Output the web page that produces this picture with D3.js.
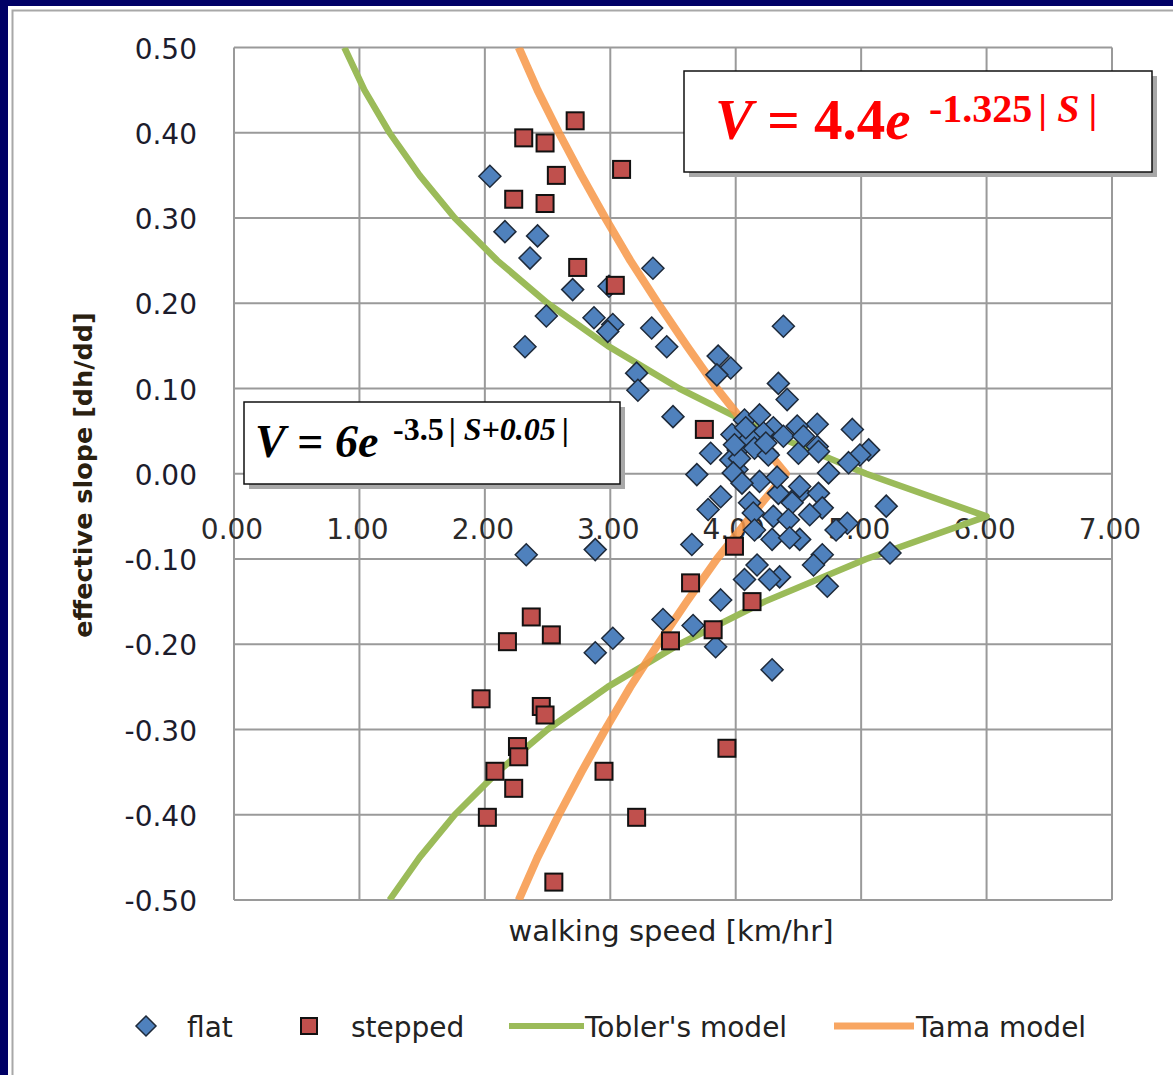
<!DOCTYPE html>
<html><head><meta charset="utf-8">
<script src="https://cdn.jsdelivr.net/npm/d3@7"></script>
<style>
html,body{margin:0;padding:0;background:#000066;overflow:hidden;}
svg{display:block}
</style></head><body>
<svg id="c" width="1173" height="1075"></svg>
<script>
// ---------- data ----------
const xTicks = [0, 1, 2, 3, 4, 5, 6, 7];
const xTickLabels = ["0.00", "1.00", "2.00", "3.00", "4.00", "5.00", "6.00", "7.00"];
const yTicks = [0.5, 0.4, 0.3, 0.2, 0.1, 0, -0.1, -0.2, -0.3, -0.4, -0.5];
const yTickLabels = ["0.50", "0.40", "0.30", "0.20", "0.10", "0.00", "-0.10", "-0.20", "-0.30", "-0.40", "-0.50"];

const flatSpeed = [2.04, 2.16, 2.42, 2.36, 3.34, 2.70, 2.99, 2.49, 2.32, 2.87, 3.02, 2.98, 3.33, 3.45, 3.21, 3.22, 3.50, 3.86, 3.96, 3.85,
  4.38, 4.34, 4.41, 3.80, 3.69, 4.01, 3.88, 3.78, 3.65, 2.33, 2.88, 4.11, 4.19, 3.42, 3.02, 2.88, 3.66, 3.84, 4.29, 3.88,
  4.93, 5.06, 4.99, 4.90, 4.74, 4.65, 4.49, 4.30, 4.50, 4.65, 4.22, 4.25, 5.20, 4.34, 4.51, 4.66, 4.45, 4.69, 4.59, 4.30,
  4.89, 4.29, 4.51, 4.14, 5.23, 4.69, 4.62, 4.17, 4.35, 4.27, 4.73, 4.07, 4.19, 4.38, 4.11, 3.97, 4.02, 4.15, 3.96, 4.03,
  4.26, 3.98, 4.54, 4.66, 4.51, 4.42, 4.43, 4.15, 4.07, 4.05, 4.80, 4.08, 4.24, 3.99, 4.33];
const flatSlope = [0.349, 0.284, 0.279, 0.253, 0.241, 0.216, 0.220, 0.185, 0.149, 0.183, 0.175, 0.167, 0.171, 0.149, 0.118, 0.098, 0.067, 0.138, 0.124, 0.116,
  0.173, 0.106, 0.087, 0.024, -0.001, 0.005, -0.027, -0.042, -0.083, -0.095, -0.089, -0.034, -0.009, -0.171, -0.193, -0.210, -0.178, -0.203, -0.230, -0.148,
  0.052, 0.028, 0.022, 0.013, 0.001, 0.058, 0.056, 0.054, 0.024, 0.032, 0.048, 0.024, -0.038, -0.023, -0.023, -0.023, -0.034, -0.040, -0.048, -0.050,
  -0.058, -0.077, -0.077, -0.046, -0.093, -0.095, -0.107, -0.107, -0.121, -0.124, -0.132, 0.063, 0.069, 0.044, 0.042, 0.046, 0.028, 0.030, 0.016, 0.018,
  0.022, 0.001, 0.044, 0.026, -0.015, -0.054, -0.075, -0.066, -0.124, -0.011, -0.066, 0.054, 0.036, 0.034, -0.004];

const steppedSpeed = [2.72, 2.31, 2.48, 3.09, 2.57, 2.23, 2.48, 2.74, 3.04, 3.75, 3.99, 3.64, 4.13, 3.82, 3.48,
  2.37, 2.53, 2.18, 1.97, 2.45, 2.48, 2.26, 2.27, 2.08, 2.23, 2.02, 2.95, 3.21, 2.55, 3.93];
const steppedSlope = [0.414, 0.394, 0.388, 0.357, 0.350, 0.322, 0.317, 0.242, 0.221, 0.052, -0.085, -0.128, -0.150, -0.183, -0.196,
  -0.168, -0.189, -0.197, -0.264, -0.273, -0.283, -0.320, -0.332, -0.349, -0.369, -0.403, -0.349, -0.403, -0.479, -0.322];

const modelSlope = [-0.50, -0.45, -0.40, -0.35, -0.30, -0.25, -0.20, -0.15, -0.10, -0.05, 0.00, 0.05, 0.10, 0.15, 0.20, 0.25, 0.30, 0.35, 0.40, 0.45, 0.50];
const toblerSpeed = [1.24, 1.48, 1.76, 2.10, 2.50, 2.98, 3.55, 4.23, 5.04, 6.00, 5.04, 4.23, 3.55, 2.98, 2.50, 2.10, 1.76, 1.48, 1.24, 1.04, 0.88];
const tamaSpeed = [2.27, 2.42, 2.59, 2.77, 2.96, 3.16, 3.38, 3.61, 3.85, 4.12, 4.40, 4.12, 3.85, 3.61, 3.38, 3.16, 2.96, 2.77, 2.59, 2.42, 2.27];

const legendLabels = ["flat", "stepped", "Tobler's model", "Tama model"];
const xTitle = "walking speed [km/hr]";
const yTitle = "effective slope [dh/dd]";

// ---------- drawing ----------
const svg = d3.select("#c");
const C = { blue: "#4F81BD", red: "#C0504D", green: "#9BBB59", orange: "#F79646", grid: "#9a9a9a" };

// frame
svg.append("rect").attr("x", 0).attr("y", 0).attr("width", 1173).attr("height", 1075).attr("fill", "#000066");
svg.append("rect").attr("x", 8).attr("y", 6).attr("width", 1200).attr("height", 1100).attr("fill", "#ffffff");
svg.append("path").attr("d", "M12.5,1100 V10.5 H1200").attr("fill", "none").attr("stroke", "#a8a8a8").attr("stroke-width", 2);

const x = d3.scaleLinear().domain([0, 7]).range([234, 1112]);
const y = d3.scaleLinear().domain([-0.5, 0.5]).range([900, 47.5]);

// gridlines
const g = svg.append("g");
g.selectAll("line.v").data(xTicks).join("line")
  .attr("x1", d => x(d)).attr("x2", d => x(d)).attr("y1", y(0.5)).attr("y2", y(-0.5))
  .attr("stroke", C.grid).attr("stroke-width", 2);
g.selectAll("line.h").data(yTicks).join("line")
  .attr("x1", x(0)).attr("x2", x(7)).attr("y1", d => y(d)).attr("y2", d => y(d))
  .attr("stroke", C.grid).attr("stroke-width", 2);

// tick labels
const font = "'DejaVu Sans', Verdana, sans-serif";
svg.append("g").selectAll("text").data(yTicks).join("text")
  .attr("x", 197).attr("y", d => y(d) + 11)
  .attr("text-anchor", "end").attr("font-family", font).attr("font-size", 28).attr("fill", "#1c1c2c")
  .text((d, i) => yTickLabels[i]);
svg.append("g").selectAll("text").data(xTicks).join("text")
  .attr("x", d => x(d) - 2).attr("y", 539)
  .attr("text-anchor", "middle").attr("font-family", font).attr("font-size", 28).attr("fill", "#2a2a2a")
  .text((d, i) => xTickLabels[i]);

// titles
svg.append("text").attr("x", 671).attr("y", 941).attr("text-anchor", "middle")
  .attr("font-family", font).attr("font-size", 29).attr("fill", "#222").text(xTitle);
svg.append("text").attr("transform", "translate(92,475) rotate(-90)").attr("text-anchor", "middle")
  .attr("font-family", font).attr("font-weight", "bold").attr("font-size", 25.5).attr("fill", "#2a2010").text(yTitle);

// model lines
svg.append("clipPath").attr("id", "pc").append("rect")
  .attr("x", x(0)).attr("y", y(0.5)).attr("width", x(7) - x(0)).attr("height", y(-0.5) - y(0.5));
const line = d3.line().x(d => x(d[0])).y(d => y(d[1]));
const lg = svg.append("g").attr("clip-path", "url(#pc)");
lg.append("path").datum(modelSlope.map((s, i) => [toblerSpeed[i], s])).attr("d", line)
  .attr("fill", "none").attr("stroke", C.green).attr("stroke-width", 6.5).attr("stroke-linejoin", "round");
lg.append("path").datum(modelSlope.map((s, i) => [tamaSpeed[i], s])).attr("d", line)
  .attr("fill", "none").attr("stroke", C.orange).attr("stroke-width", 8).attr("stroke-opacity", 0.85).attr("stroke-linejoin", "round");

// markers
const diamond = r => `M0,${-r}L${r},0L0,${r}L${-r},0Z`;
svg.append("g").selectAll("path").data(flatSpeed.map((v, i) => [v, flatSlope[i]])).join("path")
  .attr("transform", d => `translate(${x(d[0])},${y(d[1])})`).attr("d", diamond(11))
  .attr("fill", C.blue).attr("stroke", "#1e2a3a").attr("stroke-width", 1.5);
svg.append("g").selectAll("rect").data(steppedSpeed.map((v, i) => [v, steppedSlope[i]])).join("rect")
  .attr("x", d => x(d[0]) - 8.5).attr("y", d => y(d[1]) - 8.5).attr("width", 17).attr("height", 17)
  .attr("fill", C.red).attr("stroke", "#111").attr("stroke-width", 2);

// formula boxes
const serif = "'Liberation Serif', 'Times New Roman', serif";
function box(x0, y0, w, h) {
  svg.append("rect").attr("x", x0 + 5).attr("y", y0 + 5).attr("width", w).attr("height", h).attr("fill", "#a8a8a8");
  svg.append("rect").attr("x", x0).attr("y", y0).attr("width", w).attr("height", h).attr("fill", "#fff").attr("stroke", "#111").attr("stroke-width", 1.5);
}
box(684, 71, 468, 101);
let t = svg.append("text").attr("x", 715).attr("y", 139).attr("font-family", serif).attr("font-weight", "bold").attr("font-size", 57).attr("fill", "#ff0000");
t.append("tspan").attr("font-style", "italic").text("V");
t.append("tspan").text(" = 4.4");
t.append("tspan").attr("font-style", "italic").text("e");
t = svg.append("text").attr("x", 929).attr("y", 122).attr("font-family", serif).attr("font-weight", "bold").attr("font-size", 40).attr("fill", "#ff0000");
t.append("tspan").text("-1.325");
t.append("tspan").attr("dx", 6).text("|");
t.append("tspan").attr("dx", 10).attr("font-style", "italic").text("S");
t.append("tspan").attr("dx", 9).text("|");

box(244, 402, 376, 82);
t = svg.append("text").attr("x", 255).attr("y", 457).attr("font-family", serif).attr("font-weight", "bold").attr("font-size", 46).attr("fill", "#000");
t.append("tspan").attr("font-style", "italic").text("V");
t.append("tspan").text(" = ");
t.append("tspan").attr("font-style", "italic").text("6e");
t = svg.append("text").attr("x", 393).attr("y", 440).attr("font-family", serif).attr("font-weight", "bold").attr("font-size", 32).attr("fill", "#000");
t.append("tspan").text("-3.5");
t.append("tspan").attr("dx", 5).text("|");
t.append("tspan").attr("dx", 8).attr("font-style", "italic").text("S+0.05");
t.append("tspan").attr("dx", 6).text("|");

// legend
const leg = svg.append("g");
leg.append("path").attr("transform", "translate(146,1026)").attr("d", diamond(10))
  .attr("fill", C.blue).attr("stroke", "#1e2a3a").attr("stroke-width", 1.5);
leg.append("rect").attr("x", 301).attr("y", 1018).attr("width", 16).attr("height", 16)
  .attr("fill", C.red).attr("stroke", "#111").attr("stroke-width", 2);
leg.append("line").attr("x1", 509).attr("x2", 584).attr("y1", 1026).attr("y2", 1026).attr("stroke", C.green).attr("stroke-width", 6);
leg.append("line").attr("x1", 834).attr("x2", 914).attr("y1", 1026).attr("y2", 1026).attr("stroke", C.orange).attr("stroke-width", 7).attr("stroke-opacity", 0.85);
const legX = [187, 351, 585, 916];
leg.selectAll("text").data(legendLabels).join("text")
  .attr("x", (d, i) => legX[i]).attr("y", 1037)
  .attr("font-family", font).attr("font-size", 28).attr("fill", "#222").text(d => d);
</script>
</body></html>
